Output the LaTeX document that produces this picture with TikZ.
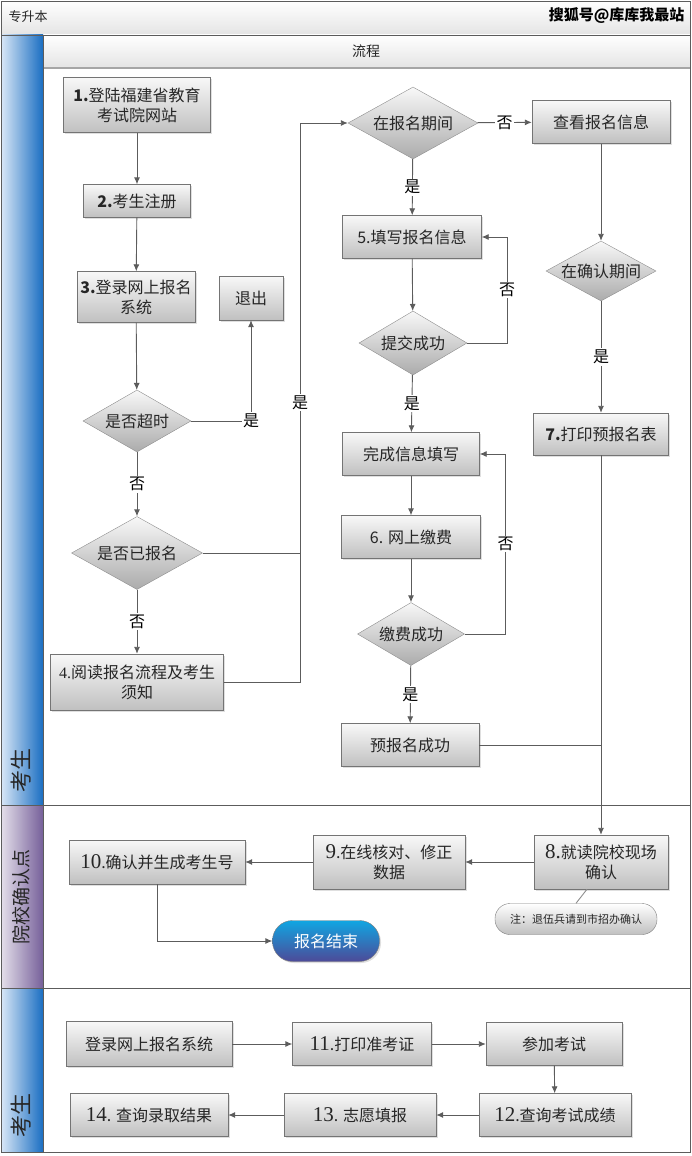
\documentclass[tikz,border=0pt]{standalone}
\usepackage{fontspec}
\setmainfont{Noto Sans CJK SC}
\newfontfamily\numfont{Liberation Serif}
\usetikzlibrary{shapes.geometric,arrows.meta,shadows,calc}

\definecolor{linegray}{HTML}{5C5C5C}
\definecolor{boxtop}{HTML}{F8F8F8}
\definecolor{boxbot}{HTML}{C0C0C0}
\definecolor{diabot}{HTML}{ABABAB}
\definecolor{txtgray}{HTML}{262626}
\definecolor{lanelight}{HTML}{D9E7F6}
\definecolor{laneblue}{HTML}{1A6EC2}
\definecolor{purplelight}{HTML}{E4DFEA}
\definecolor{lanepurple}{HTML}{76609A}
\definecolor{endtop}{HTML}{10A6E2}
\definecolor{endbot}{HTML}{4D4A98}
\definecolor{headbot}{HTML}{E4E4E4}

\newcommand{\stepnum}[1]{{\numfont\fontsize{21}{21}\selectfont #1}}

\tikzset{
  box/.style={rectangle, draw=linegray!85, top color=boxtop, bottom color=boxbot,
    text=txtgray, align=center, inner sep=2pt, font=\fontsize{16}{20}\selectfont,
    drop shadow={shadow xshift=1.5pt, shadow yshift=-1.5pt, opacity=0.25}},
  decision/.style={diamond, aspect=1.8, draw=linegray!70, top color=boxtop, bottom color=diabot,
    text=txtgray, inner sep=0pt, font=\fontsize{16}{20}\selectfont},
  arrow/.style={draw=linegray, line width=0.9pt, -{Latex[length=7pt,width=6pt]}},
  line/.style={draw=linegray, line width=0.9pt},
  yesno/.style={fill=white, inner sep=1.5pt, text=black, font=\fontsize{16}{16}\selectfont},
  lanelabel/.style={rotate=90, text=txtgray}
}

\begin{document}
\begin{tikzpicture}[x=1pt,y=-1pt]
\useasboundingbox (0,0) rectangle (692,1156);

% Header rows
\shade[top color=white, bottom color=headbot] (1,1) rectangle (690,35);
\shade[top color=white, bottom color=headbot] (43,35) rectangle (690,68);
\node (head) [anchor=west, text=txtgray, font=\fontsize{13}{13}\selectfont] at (5,17) {专升本};
\node (mark) [anchor=east, text=black, font=\bfseries\fontsize{15}{15}\selectfont] at (688,16) {搜狐号@库库我最站};
\node (flow) [text=txtgray, font=\fontsize{14}{14}\selectfont] at (366,51) {流程};

% Lane column
\shade[left color=lanelight, right color=laneblue] (1,35) rectangle (43,805);
\shade[left color=purplelight, right color=lanepurple] (1,805) rectangle (43,988);
\shade[left color=lanelight, right color=laneblue] (1,988) rectangle (43,1152);
\node (laneA) [lanelabel, font=\fontsize{22}{22}\selectfont] at (21,770) {考生};
\node (laneB) [lanelabel, font=\fontsize{19}{19}\selectfont] at (21,897) {院校确认点};
\node (laneC) [lanelabel, font=\fontsize{22}{22}\selectfont] at (21,1115) {考生};

% Frame and lane lines
\draw[linegray] (1,35) -- (690,35);
\draw[gray!70, line width=2pt] (43,68) -- (690,68);
\draw[linegray] (43,35) -- (43,1152);
\draw[linegray] (1,805) -- (690,805);
\draw[linegray] (1,988) -- (690,988);
\draw[linegray] (1,1) rectangle (690,1152);

% Left column
\node (reg1) at (137,105) [box, minimum width=147, minimum height=55] {\textbf{1.}登陆福建省教育\\考试院网站};
\node (reg2) at (137,201) [box, minimum width=107, minimum height=33] {\textbf{2.}考生注册};
\node (login3) at (136,297) [box, minimum width=118, minimum height=51] {\textbf{3.}登录网上报名\\系统};
\node (quit) at (251,298) [box, minimum width=64, minimum height=44] {退出};
\node (timeout) at (137,421) [decision, aspect=1.74, minimum width=108, minimum height=62] {是否超时};
\node (signed) at (137,553) [decision, minimum width=131, minimum height=73] {是否已报名};
\node (read4) at (137,682) [box, minimum width=173, minimum height=56] {{\numfont 4.}阅读报名流程及考生\\须知};
\coordinate (jointop) at (300,123);
\coordinate (joinbot) at (300,682);

% Middle column
\node (period) at (413,123) [decision, minimum width=130, minimum height=72] {在报名期间};
\node (fill5) at (412,237) [box, minimum width=139, minimum height=43] {5.填写报名信息};
\node (submit) at (413,343) [decision, aspect=1.69, minimum width=108, minimum height=64] {提交成功};
\node (done) at (411,454) [box, minimum width=137, minimum height=43] {完成信息填写};
\node (pay6) at (411,537) [box, minimum width=139, minimum height=43] {6. 网上缴费};
\node (paid) at (411,634) [decision, aspect=1.7, minimum width=107, minimum height=63] {缴费成功};
\node (pre) at (410,745) [box, minimum width=138, minimum height=43] {预报名成功};

% Right column
\node (view) at (601,122) [box, minimum width=138, minimum height=43] {查看报名信息};
\node (confirmp) at (601,271) [decision, aspect=1.83, minimum width=110, minimum height=60] {在确认期间};
\node (print7) at (601,434) [box, minimum width=135, minimum height=42] {\textbf{7.}打印预报名表};

% Confirmation lane
\node (confirm8) at (601,862) [box, minimum width=134, minimum height=54] {\stepnum{8.}就读院校现场\\确认};
\node (note) at (576,919) [rectangle, rounded corners=15pt, draw=linegray!80, top color=white, bottom color=boxbot,
  text=txtgray, minimum width=162, minimum height=31, font=\fontsize{11}{11}\selectfont] {注：退伍兵请到市招办确认};
\node (check9) at (389,862) [box, minimum width=152, minimum height=54] {\stepnum{9}.在线核对、修正\\数据};
\node (gen10) at (157,862) [box, minimum width=176, minimum height=44] {\stepnum{10}.确认并生成考生号};
\node (finish) at (326,941) [rectangle, rounded corners=20pt, draw=linegray!80, top color=endtop, bottom color=endbot,
  text=white, minimum width=107, minimum height=41, font=\fontsize{16}{16}\selectfont,
  drop shadow={shadow xshift=1.5pt, shadow yshift=-1.5pt, opacity=0.25}] {报名结束};

% Bottom lane
\node (sys) at (149,1044) [box, minimum width=166, minimum height=45] {登录网上报名系统};
\node (ticket11) at (362,1044) [box, minimum width=139, minimum height=43] {\stepnum{11}.打印准考证};
\node (exam) at (554,1044) [box, minimum width=136, minimum height=43] {参加考试};
\node (score12) at (555,1115) [box, minimum width=152, minimum height=43] {\stepnum{12}.查询考试成绩};
\node (wish13) at (360,1115) [box, minimum width=152, minimum height=43] {\stepnum{13}. 志愿填报};
\node (result14) at (149,1115) [box, minimum width=158, minimum height=43] {\stepnum{14}. 查询录取结果};

% Left connectors
\draw[arrow] (reg1) -- (reg2);
\draw[arrow] (reg2) -- (login3);
\draw[arrow] (login3) -- (timeout);
\draw[arrow] (timeout.east) -- (quit.south |- timeout.east) node[yesno] {是} -- (quit.south);
\draw[arrow] (timeout) -- node[yesno] {否} (signed);
\draw[arrow] (signed) -- node[yesno] {否} (read4);
\draw[line] (signed.east) -- (signed.east -| joinbot);
\draw[arrow] (read4.east) -- (joinbot) -- node[yesno] {是} (jointop) -- (period.west);

% Middle connectors
\draw[arrow] (period) -- node[yesno] {否} (view);
\draw[arrow] (period) -- node[yesno] {是} (fill5);
\draw[arrow] (fill5) -- (submit);
\draw[arrow] (submit.east) -- ++(40,0) |- node[yesno, pos=0.25] {否} (fill5.east);
\draw[arrow] (submit) -- node[yesno] {是} (done);
\draw[arrow] (done) -- (pay6);
\draw[arrow] (pay6) -- (paid);
\draw[arrow] (paid.east) -- ++(41,0) |- node[yesno, pos=0.25] {否} (done.east);
\draw[arrow] (paid) -- node[yesno] {是} (pre);
\draw[line] (pre.east) -- (pre.east -| print7.south);

% Right connectors
\draw[arrow] (view) -- (confirmp);
\draw[arrow] (confirmp) -- node[yesno] {是} (print7);
\draw[arrow] (print7) -- (confirm8);

% Confirmation connectors
\draw[arrow] (confirm8) -- (check9);
\draw[arrow] (check9) -- (gen10);
\draw[arrow] (gen10.south) |- (finish.west);
\draw[line, draw=linegray!70] ($(confirm8.south)+(-14,0)$) -- (note.north);

% Bottom connectors
\draw[arrow] (sys) -- (ticket11);
\draw[arrow] (ticket11) -- (exam);
\draw[arrow] (exam) -- (score12);
\draw[arrow] (score12) -- (wish13);
\draw[arrow] (wish13) -- (result14);
\end{tikzpicture}
\end{document}
